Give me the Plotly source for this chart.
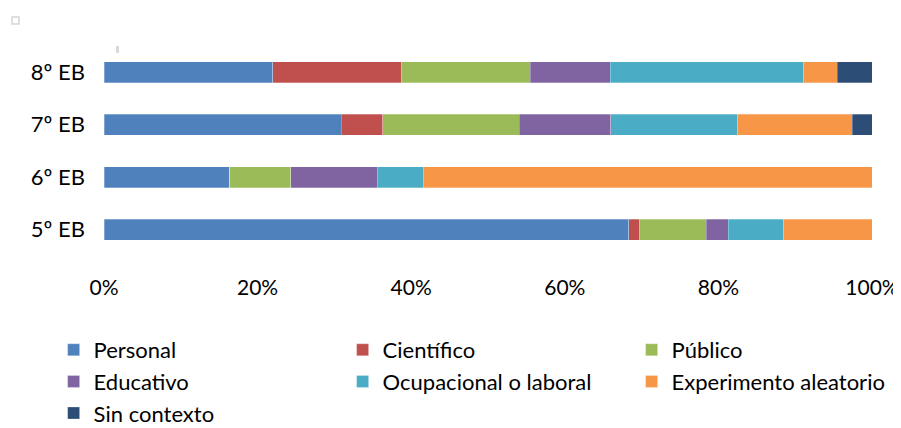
import plotly.graph_objects as go

categories = ["5º EB", "6º EB", "7º EB", "8º EB"]
series_names = ["Personal", "Científico", "Público", "Educativo",
                "Ocupacional o laboral", "Experimento aleatorio", "Sin contexto"]
personal = [68.3, 16.4, 30.9, 22.0]
cientifico = [1.4, 0.0, 5.4, 16.7]
publico = [8.7, 7.9, 17.8, 16.8]
educativo = [2.9, 11.3, 11.9, 10.4]
ocupacional = [7.2, 6.0, 16.5, 25.2]
experimento = [11.5, 58.4, 14.9, 4.4]
sin_contexto = [0.0, 0.0, 2.6, 4.5]
x_ticks = [0, 20, 40, 60, 80, 100]
x_tick_labels = ["0%", "20%", "40%", "60%", "80%", "100%"]
colors = ["#4F81BD", "#C0504D", "#9BBB59", "#8064A2", "#4BACC6", "#F79646", "#2C4D75"]

values = [personal, cientifico, publico, educativo, ocupacional, experimento, sin_contexto]

FONT = "Lato"
fig = go.Figure()
for name, vals, col in zip(series_names, values, colors):
    fig.add_trace(go.Bar(
        y=categories, x=vals, name=name, orientation="h",
        marker=dict(color=col, line=dict(color="rgba(255,255,255,0.35)", width=0.8)),
    ))

fig.update_layout(
    width=893, height=420,
    barmode="stack", barnorm="percent", bargap=0.6,
    margin=dict(l=96, r=29, t=38, b=172, autoexpand=False),
    paper_bgcolor="white", plot_bgcolor="white",
    font=dict(family=FONT, size=22, color="#000000"),
    xaxis=dict(range=[0, 100], tickvals=x_ticks, ticktext=x_tick_labels,
               showgrid=False, zeroline=False, showline=False, automargin=False,
               ticklabelstandoff=17, tickfont=dict(size=21, family=FONT)),
    yaxis=dict(categoryorder="array", categoryarray=categories,
               showgrid=False, zeroline=False, showline=False, automargin=False,
               ticklabelstandoff=18, tickfont=dict(size=22, family=FONT)),
    legend=dict(orientation="h", xref="paper", yref="paper",
                x=-0.0656, y=-0.3476, xanchor="left", yanchor="top",
                entrywidth=244, entrywidthmode="pixels",
                traceorder="normal", font=dict(size=22, family=FONT),
                itemclick=False),
    showlegend=True,
    shapes=[
        dict(type="rect", xref="paper", yref="paper",
             x0=-0.1198, x1=-0.1107, y0=1.1048, y1=1.138,
             line=dict(color="#d6d6d6", width=1.5), fillcolor="rgba(0,0,0,0)"),
        dict(type="rect", xref="paper", yref="paper",
             x0=0.0156, x1=0.0195, y0=0.9667, y1=1.0,
             line=dict(width=0), fillcolor="#d9d9d9"),
    ],
)

fig.write_html("out.html")
